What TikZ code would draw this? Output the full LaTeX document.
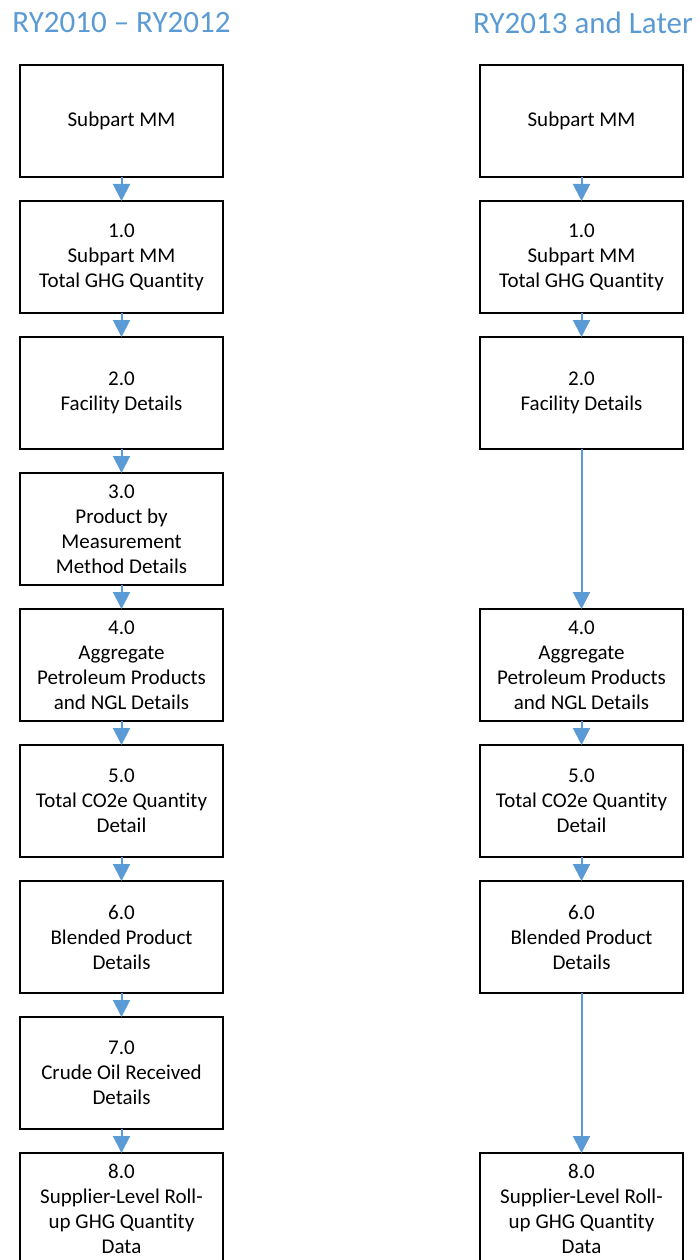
\documentclass[tikz,border=0pt]{standalone}
\usepackage{fontspec}
\setmainfont{Carlito}[Ligatures={TeX,NoCommon}]
\usetikzlibrary{positioning,arrows.meta}
\definecolor{flowblue}{HTML}{5B9BD5}

\begin{document}
\begin{tikzpicture}[
    x=1pt, y=1pt,
    node distance=24pt,
    stepbox/.style={rectangle, draw, line width=1.5pt, outer sep=0pt, inner sep=2pt,
        minimum width=203pt, minimum height=112pt, align=center,
        font=\fontsize{21}{25}\selectfont},
    flow/.style={draw=flowblue, line width=2pt, -{Triangle[width=17pt,length=17pt]}},
    heading/.style={text=flowblue, font=\fontsize{31}{36}\selectfont}
]
    \useasboundingbox (0,0) rectangle (699,-1260);

    % headings
    \node[heading] (tleft) at (121.5,-23) {RY2010 – RY2012};
    \node[heading] (tright) at (583,-23) {RY2013 and Later};

    % RY2010 - RY2012
    \node[stepbox] (l0) at (121.5,-121) {Subpart MM};
    \node[stepbox, below=of l0] (l1) {1.0\\Subpart MM\\Total GHG Quantity};
    \node[stepbox, below=of l1] (l2) {2.0\\Facility Details};
    \node[stepbox, below=of l2] (l3) {3.0\\Product by\\Measurement\\Method Details};
    \node[stepbox, below=of l3] (l4) {4.0\\Aggregate\\Petroleum Products\\and NGL Details};
    \node[stepbox, below=of l4] (l5) {5.0\\Total CO2e Quantity\\Detail};
    \node[stepbox, below=of l5] (l6) {6.0\\Blended Product\\Details};
    \node[stepbox, below=of l6] (l7) {7.0\\Crude Oil Received\\Details};
    \node[stepbox, below=of l7] (l8) {8.0\\Supplier-Level Roll-\\up GHG Quantity\\Data};

    \foreach \a/\b in {l0/l1, l1/l2, l2/l3, l3/l4, l4/l5, l5/l6, l6/l7, l7/l8}
        \draw[flow] (\a) -- (\b);

    % RY2013 and later
    \node[stepbox, right=257pt of l0] (r0) {Subpart MM};
    \node[stepbox, right=257pt of l1] (r1) {1.0\\Subpart MM\\Total GHG Quantity};
    \node[stepbox, right=257pt of l2] (r2) {2.0\\Facility Details};
    \node[stepbox, right=257pt of l4] (r4) {4.0\\Aggregate\\Petroleum Products\\and NGL Details};
    \node[stepbox, right=257pt of l5] (r5) {5.0\\Total CO2e Quantity\\Detail};
    \node[stepbox, right=257pt of l6] (r6) {6.0\\Blended Product\\Details};
    \node[stepbox, right=257pt of l8] (r8) {8.0\\Supplier-Level Roll-\\up GHG Quantity\\Data};

    \foreach \a/\b in {r0/r1, r1/r2, r2/r4, r4/r5, r5/r6, r6/r8}
        \draw[flow] (\a) -- (\b);
\end{tikzpicture}
\end{document}
